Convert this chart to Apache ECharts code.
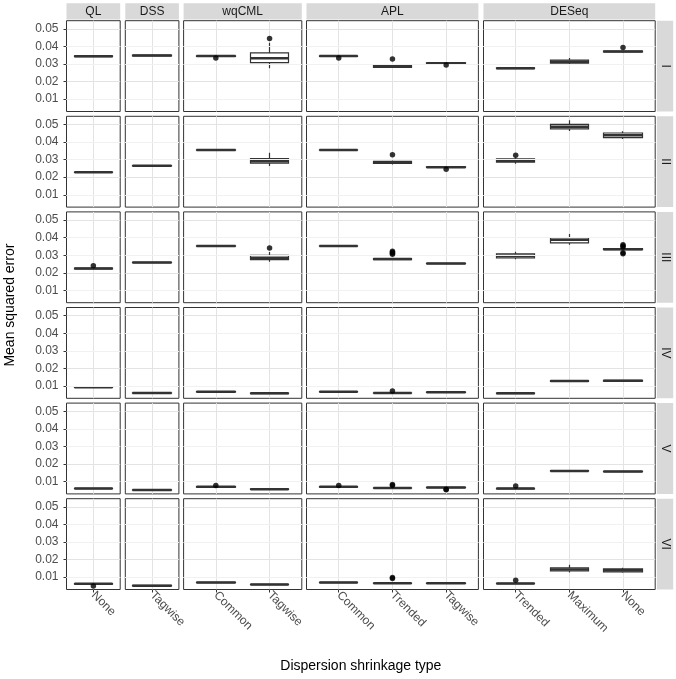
<!DOCTYPE html>
<html>
<head>
<meta charset="utf-8">
<title>Mean squared error by dispersion shrinkage type</title>
<script src="https://cdn.jsdelivr.net/npm/echarts@6/dist/echarts.min.js"></script>
<style>
  html, body { margin: 0; padding: 0; background: #fff; }
  #chart { width: 676px; height: 679px; }
</style>
</head>
<body>
<div id="chart"></div>
<script>
// facets
var rowLabels = ['I', 'II', 'III', 'IV', 'V', 'VI'];
var facetLabels = ['QL', 'DSS', 'wqCML', 'APL', 'DESeq'];
var facetTypes = [['None'], ['Tagwise'], ['Common', 'Tagwise'], ['Common', 'Trended', 'Tagwise'], ['Trended', 'Maximum', 'None']];
var yTicks = [0.01, 0.02, 0.03, 0.04, 0.05];
var yMinor = [0.005, 0.015, 0.025, 0.035, 0.045];

// box stats [min, Q1, median, Q3, max], order:
// QL None, DSS Tagwise, wqCML Common, wqCML Tagwise, APL Common, APL Trended, APL Tagwise, DESeq Trended, DESeq Maximum, DESeq None
var boxI = [
  [0.0340, 0.0342, 0.0344, 0.0346, 0.0349],
  [0.0343, 0.0346, 0.0348, 0.0350, 0.0354],
  [0.0342, 0.0343, 0.0345, 0.0346, 0.0347],
  [0.0276, 0.0308, 0.0333, 0.0363, 0.0420],
  [0.0342, 0.0343, 0.0345, 0.0346, 0.0347],
  [0.0279, 0.0281, 0.0288, 0.0296, 0.0298],
  [0.0300, 0.0302, 0.0304, 0.0306, 0.0307],
  [0.0272, 0.0274, 0.0276, 0.0278, 0.0280],
  [0.0296, 0.0305, 0.0313, 0.0322, 0.0334],
  [0.0364, 0.0368, 0.0371, 0.0373, 0.0377]
];
var boxII = [
  [0.0225, 0.0227, 0.0228, 0.0229, 0.0231],
  [0.0262, 0.0264, 0.0265, 0.0266, 0.0268],
  [0.0352, 0.0354, 0.0355, 0.0356, 0.0358],
  [0.0263, 0.0280, 0.0291, 0.0306, 0.0339],
  [0.0352, 0.0354, 0.0355, 0.0356, 0.0358],
  [0.0272, 0.0278, 0.0283, 0.0290, 0.0295],
  [0.0253, 0.0255, 0.0257, 0.0259, 0.0261],
  [0.0277, 0.0286, 0.0294, 0.0304, 0.0312],
  [0.0462, 0.0474, 0.0487, 0.0500, 0.0523],
  [0.0417, 0.0425, 0.0438, 0.0451, 0.0461]
];
var boxIII = [
  [0.0220, 0.0222, 0.0224, 0.0226, 0.0228],
  [0.0256, 0.0258, 0.0259, 0.0260, 0.0262],
  [0.0349, 0.0351, 0.0352, 0.0353, 0.0355],
  [0.0263, 0.0275, 0.0285, 0.0299, 0.0318],
  [0.0349, 0.0351, 0.0352, 0.0353, 0.0355],
  [0.0273, 0.0275, 0.0278, 0.0281, 0.0284],
  [0.0250, 0.0252, 0.0253, 0.0254, 0.0256],
  [0.0277, 0.0285, 0.0297, 0.0308, 0.0320],
  [0.0360, 0.0370, 0.0388, 0.0399, 0.0421],
  [0.0328, 0.0331, 0.0334, 0.0337, 0.0340]
];
var boxIV = [
  [0.0090, 0.0092, 0.0093, 0.0094, 0.0096],
  [0.0057, 0.0059, 0.0060, 0.0061, 0.0062],
  [0.0064, 0.0066, 0.0067, 0.0068, 0.0070],
  [0.0055, 0.0057, 0.0058, 0.0059, 0.0060],
  [0.0064, 0.0066, 0.0067, 0.0068, 0.0070],
  [0.0057, 0.0059, 0.0060, 0.0061, 0.0063],
  [0.0061, 0.0063, 0.0064, 0.0065, 0.0067],
  [0.0055, 0.0057, 0.0058, 0.0059, 0.0060],
  [0.0122, 0.0126, 0.0128, 0.0130, 0.0134],
  [0.0125, 0.0128, 0.0130, 0.0132, 0.0135]
];
var boxV = [
  [0.0058, 0.0060, 0.0061, 0.0062, 0.0064],
  [0.0049, 0.0051, 0.0052, 0.0053, 0.0055],
  [0.0067, 0.0069, 0.0070, 0.0071, 0.0073],
  [0.0054, 0.0056, 0.0057, 0.0058, 0.0059],
  [0.0067, 0.0069, 0.0070, 0.0071, 0.0073],
  [0.0060, 0.0062, 0.0063, 0.0064, 0.0066],
  [0.0063, 0.0065, 0.0066, 0.0067, 0.0069],
  [0.0057, 0.0059, 0.0060, 0.0061, 0.0063],
  [0.0157, 0.0159, 0.0160, 0.0162, 0.0164],
  [0.0153, 0.0156, 0.0157, 0.0158, 0.0160]
];
var boxVI = [
  [0.0059, 0.0061, 0.0062, 0.0063, 0.0065],
  [0.0049, 0.0051, 0.0052, 0.0053, 0.0055],
  [0.0067, 0.0069, 0.0070, 0.0071, 0.0073],
  [0.0055, 0.0057, 0.0058, 0.0059, 0.0061],
  [0.0067, 0.0069, 0.0070, 0.0071, 0.0073],
  [0.0063, 0.0065, 0.0066, 0.0067, 0.0069],
  [0.0063, 0.0065, 0.0066, 0.0067, 0.0069],
  [0.0061, 0.0063, 0.0064, 0.0065, 0.0067],
  [0.0126, 0.0135, 0.0144, 0.0153, 0.0171],
  [0.0125, 0.0130, 0.0139, 0.0147, 0.0154]
];

// outliers [box index, value]
var outI = [[2, 0.0334], [3, 0.0445], [4, 0.0334], [5, 0.0328], [6, 0.0294], [9, 0.0393]];
var outII = [[5, 0.0328], [6, 0.0245], [7, 0.0324]];
var outIII = [[0, 0.0240], [3, 0.0341], [5, 0.0305], [5, 0.0311], [5, 0.0317], [5, 0.0323],
  [9, 0.0360], [9, 0.0352], [9, 0.0346], [9, 0.0314], [9, 0.0308]];
var outIV = [[5, 0.0072]];
var outV = [[2, 0.0078], [4, 0.0078], [5, 0.0084], [5, 0.0078], [6, 0.0057], [6, 0.0053], [7, 0.0075]];
var outVI = [[0, 0.0050], [5, 0.0098], [5, 0.0093], [7, 0.0082]];

var boxRows = [boxI, boxII, boxIII, boxIV, boxV, boxVI];
var outRows = [outI, outII, outIII, outIV, outV, outVI];

// layout (px)
var colLeft = [66.5, 125.3, 183.6, 306.5, 483.5];
var colWidth = [53.7, 53.6, 118.2, 171.9, 171.7];
var rowTop0 = 20.7, rowStep = 95.6, rowHeight = 90.8;
var yMin = 0.0030, yMax = 0.0546;
var font = "'Liberation Sans', Arial, Helvetica, sans-serif";
var ink = '#333333';

// which facet / x position each box belongs to
var boxFacet = [], boxPos = [];
facetTypes.forEach(function (types, f) {
  types.forEach(function (t, j) { boxFacet.push(f); boxPos.push(j + 1); });
});

var chart = echarts.init(document.getElementById('chart'));
var grid = [], xAxis = [], yAxis = [], series = [], graphic = [];

rowLabels.forEach(function (rowName, r) {
  facetLabels.forEach(function (facetName, f) {
    var gi = r * facetLabels.length + f;
    var n = facetTypes[f].length;
    var pos = facetTypes[f].map(function (t, j) { return j + 1; });
    grid.push({
      left: colLeft[f], top: rowTop0 + r * rowStep,
      width: colWidth[f], height: rowHeight,
      show: true, backgroundColor: '#ffffff',
      borderColor: ink, borderWidth: 1
    });
    xAxis.push({
      type: 'value', gridIndex: gi,
      min: n === 1 ? 0.5 : 0.4, max: n === 1 ? 1.5 : n + 0.6,
      minInterval: 1, maxInterval: 1,
      axisLine: {show: false},
      axisTick: {show: r === rowLabels.length - 1, length: 3, customValues: pos,
        lineStyle: {color: ink}},
      axisLabel: {show: r === rowLabels.length - 1, customValues: pos,
        rotate: -45, margin: 4, color: '#4d4d4d', fontSize: 12, fontFamily: font,
        formatter: function (v) { return facetTypes[f][Math.round(v) - 1] || ''; }},
      splitLine: {show: true, lineStyle: {color: '#e3e3e3', width: 1}}
    });
    yAxis.push({
      type: 'value', gridIndex: gi, min: yMin, max: yMax,
      minInterval: 0.01, maxInterval: 0.01,
      axisLine: {show: false},
      axisTick: {show: f === 0, length: 3, customValues: yTicks,
        lineStyle: {color: ink}},
      axisLabel: {show: f === 0, customValues: yTicks, margin: 8,
        color: '#4d4d4d', fontSize: 12, fontFamily: font,
        formatter: function (v) { return v.toFixed(2); }},
      splitLine: {show: true, lineStyle: {color: '#e3e3e3', width: 1}}
    });

    // minor grid lines
    series.push({
      type: 'line', xAxisIndex: gi, yAxisIndex: gi, data: [], silent: true, z: 1,
      markLine: {
        silent: true, symbol: 'none', label: {show: false},
        lineStyle: {color: '#f1f1f1', width: 1, type: 'solid'},
        emphasis: {disabled: true},
        data: yMinor.map(function (v) { return {yAxis: v}; })
      }
    });

    // box + whiskers (no end caps, like ggplot) and a heavier median line
    var bodies = [], medians = [];
    boxRows[r].forEach(function (s, b) {
      if (boxFacet[b] !== f) return;
      bodies.push([boxPos[b], s[1], s[3], s[0], s[4]]);
      medians.push([boxPos[b], s[2], s[2], s[2], s[2]]);
    });
    series.push({
      type: 'candlestick', xAxisIndex: gi, yAxisIndex: gi, z: 3,
      barWidth: 39, silent: true,
      itemStyle: {color: '#ffffff', color0: '#ffffff', borderColor: ink, borderColor0: ink,
        borderColorDoji: ink, borderWidth: 1.2},
      emphasis: {disabled: true},
      data: bodies
    });
    series.push({
      type: 'candlestick', xAxisIndex: gi, yAxisIndex: gi, z: 4,
      barWidth: 39, silent: true,
      itemStyle: {color: ink, color0: ink, borderColor: ink, borderColor0: ink,
        borderColorDoji: ink, borderWidth: 2.5},
      emphasis: {disabled: true},
      data: medians
    });

    var pts = [];
    outRows[r].forEach(function (o) {
      if (boxFacet[o[0]] === f) pts.push([boxPos[o[0]], o[1]]);
    });
    series.push({
      type: 'scatter', xAxisIndex: gi, yAxisIndex: gi, z: 5,
      symbolSize: 5.5, itemStyle: {color: '#000000'},
      emphasis: {disabled: true},
      data: pts
    });
  });
});

// facet strips
facetLabels.forEach(function (name, f) {
  graphic.push({type: 'rect', silent: true,
    shape: {x: colLeft[f], y: 3.3, width: colWidth[f], height: 16.2},
    style: {fill: '#d9d9d9'}});
  graphic.push({type: 'text', silent: true,
    x: colLeft[f] + colWidth[f] / 2, y: 11.6,
    style: {text: name, fill: '#1a1a1a', font: '12px ' + font, align: 'center', verticalAlign: 'middle'}});
});
var stripX = colLeft[4] + colWidth[4] + 1.7;
rowLabels.forEach(function (name, r) {
  var top = rowTop0 + r * rowStep;
  graphic.push({type: 'rect', silent: true,
    shape: {x: stripX, y: top, width: 16.3, height: rowHeight},
    style: {fill: '#d9d9d9'}});
  graphic.push({type: 'text', silent: true,
    x: stripX + 8.4, y: top + rowHeight / 2, rotation: -Math.PI / 2,
    style: {text: name, fill: '#1a1a1a', font: '12px ' + font, align: 'center', verticalAlign: 'middle'}});
});

// axis titles
graphic.push({type: 'text', silent: true,
  x: 10.5, y: rowTop0 + (5 * rowStep + rowHeight) / 2, rotation: Math.PI / 2,
  style: {text: 'Mean squared error', fill: '#000000', font: '14px ' + font, align: 'center', verticalAlign: 'middle'}});
graphic.push({type: 'text', silent: true,
  x: (colLeft[0] + colLeft[4] + colWidth[4]) / 2, y: 666.5,
  style: {text: 'Dispersion shrinkage type', fill: '#000000', font: '14px ' + font, align: 'center', verticalAlign: 'middle'}});

chart.setOption({
  animation: false,
  backgroundColor: '#ffffff',
  grid: grid,
  xAxis: xAxis,
  yAxis: yAxis,
  series: series,
  graphic: graphic
});
window.addEventListener('resize', function () { chart.resize(); });
</script>
</body>
</html>
